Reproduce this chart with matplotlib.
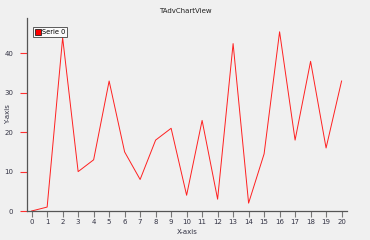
import numpy as np
import matplotlib
matplotlib.use("Agg")
import matplotlib.pyplot as plt
from matplotlib.lines import Line2D

x = list(range(21))
serie0 = [0, 1, 44, 10, 13, 33, 15, 8, 18, 21, 4, 23, 3, 42.5, 2, 14.5, 45.5, 18, 38, 16, 33]
yticks = [0, 10, 20, 30, 40]

bg = "#f0f0f0"
fig = plt.figure(figsize=(3.7, 2.4), dpi=100, facecolor=bg)
ax = fig.add_axes([27 / 370, 29 / 240, 320 / 370, 193 / 240])
ax.set_facecolor(bg)

ax.plot(x, serie0, color="#ff2020", lw=0.7)

ax.set_xlim(-0.3, 20.35)
ax.set_ylim(0, 49)
ax.set_xticks(x)
ax.set_yticks(yticks)

for s in ["top", "right"]:
    ax.spines[s].set_visible(False)
for s in ["left", "bottom"]:
    ax.spines[s].set_color("#555555")
    ax.spines[s].set_linewidth(0.9)

ax.tick_params(axis="y", colors="#ff3030", length=5, width=0.8, labelsize=5,
               labelcolor="#333344", pad=5)
ax.tick_params(axis="x", colors="#777777", length=4, width=0.8, labelsize=5,
               labelcolor="#333344", pad=2)

fig.text(0.5, 0.955, "TAdvChartView", ha="center", va="center", fontsize=5, color="#222222")
ax.set_xlabel("X-axis", fontsize=5, color="#333344")
ax.set_ylabel("Y-axis", fontsize=5, color="#333344")
ax.xaxis.set_label_coords(0.5, -0.109)
ax.yaxis.set_label_coords(-0.059, 0.5)
ax.xaxis.label.set_va("center")
ax.yaxis.label.set_va("center")

h = Line2D([], [], marker="s", ls="none", markersize=4.5, markerfacecolor="#ff0000",
           markeredgecolor="#222222", markeredgewidth=0.6)
leg = ax.legend([h], ["Serie 0"], loc="upper left", bbox_to_anchor=(0.018, 0.955),
                fontsize=4.8, frameon=True, fancybox=False, handletextpad=0.2,
                handlelength=0.8, borderpad=0.35, borderaxespad=0)
leg.get_frame().set_edgecolor("#333333")
leg.get_frame().set_linewidth(0.7)
leg.get_frame().set_facecolor("white")

fig.savefig("out.png", dpi=100, facecolor=bg)
